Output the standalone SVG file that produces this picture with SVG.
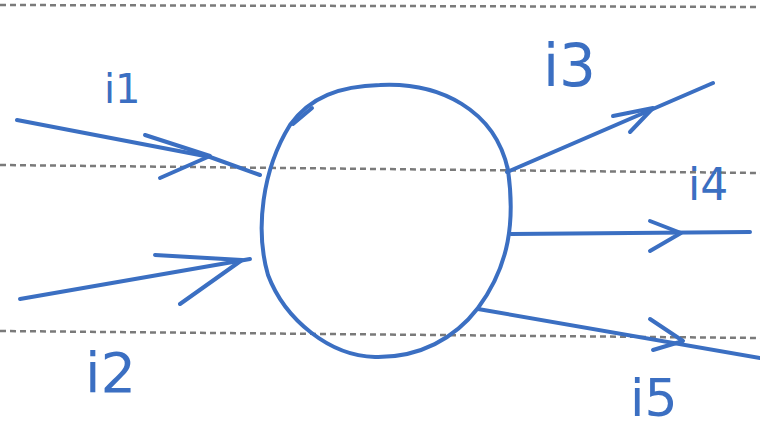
<svg xmlns="http://www.w3.org/2000/svg" width="760" height="432" viewBox="0 0 760 432">
<style>
.guide{stroke:#7a7a7a;stroke-width:2.5;stroke-dasharray:6 4;fill:none}
.ink{stroke:#3b6fc2;stroke-width:4;fill:none;stroke-linecap:round;stroke-linejoin:round}
.lbl{fill:#3b6fc2;font-family:"DejaVu Sans","Liberation Sans",sans-serif}
</style>
<rect width="760" height="432" fill="#ffffff"/>
<g id="guides">
<line class="guide" x1="0" y1="5" x2="760" y2="7"/>
<line class="guide" x1="0" y1="165" x2="760" y2="173"/>
<line class="guide" x1="0" y1="331" x2="760" y2="338"/>
</g>
<g id="node">
<path class="ink" d="M380,85 C440,82 495,110 508,170 C515,220 510,265 478,308 C455,338 420,358 375,357 C330,356 285,320 268,275 C255,230 262,170 290,125 C310,97 340,86 380,85"/>
<path class="ink" d="M293,124 L312,108"/>
</g>
<g id="connectors">
<g id="i1-edge">
<polyline class="ink" points="17,120 210,157 260,175"/>
<polyline class="ink" points="145,135 210,156 160,178"/>
</g>
<g id="i2-edge">
<line class="ink" x1="20" y1="299" x2="250" y2="259"/>
<polyline class="ink" points="155,255 242,260 180,304"/>
</g>
<g id="i3-edge">
<line class="ink" x1="507" y1="172" x2="713" y2="83"/>
<polyline class="ink" points="613,116 653,108 630,132"/>
</g>
<g id="i4-edge">
<line class="ink" x1="511" y1="234" x2="750" y2="232"/>
<polyline class="ink" points="650,221 681,233 650,251"/>
</g>
<g id="i5-edge">
<line class="ink" x1="478" y1="309" x2="760" y2="358"/>
<polyline class="ink" points="650,319 683,341 653,350"/>
</g>
</g>
<g id="labels">
<text class="lbl" x="104" y="103" font-size="40">i1</text>
<text class="lbl" x="543" y="86" font-size="58">i3</text>
<text class="lbl" x="688" y="200" font-size="44">i4</text>
<text class="lbl" x="85" y="392" font-size="56">i2</text>
<text class="lbl" x="630" y="416" font-size="52">i5</text>
</g>
</svg>
